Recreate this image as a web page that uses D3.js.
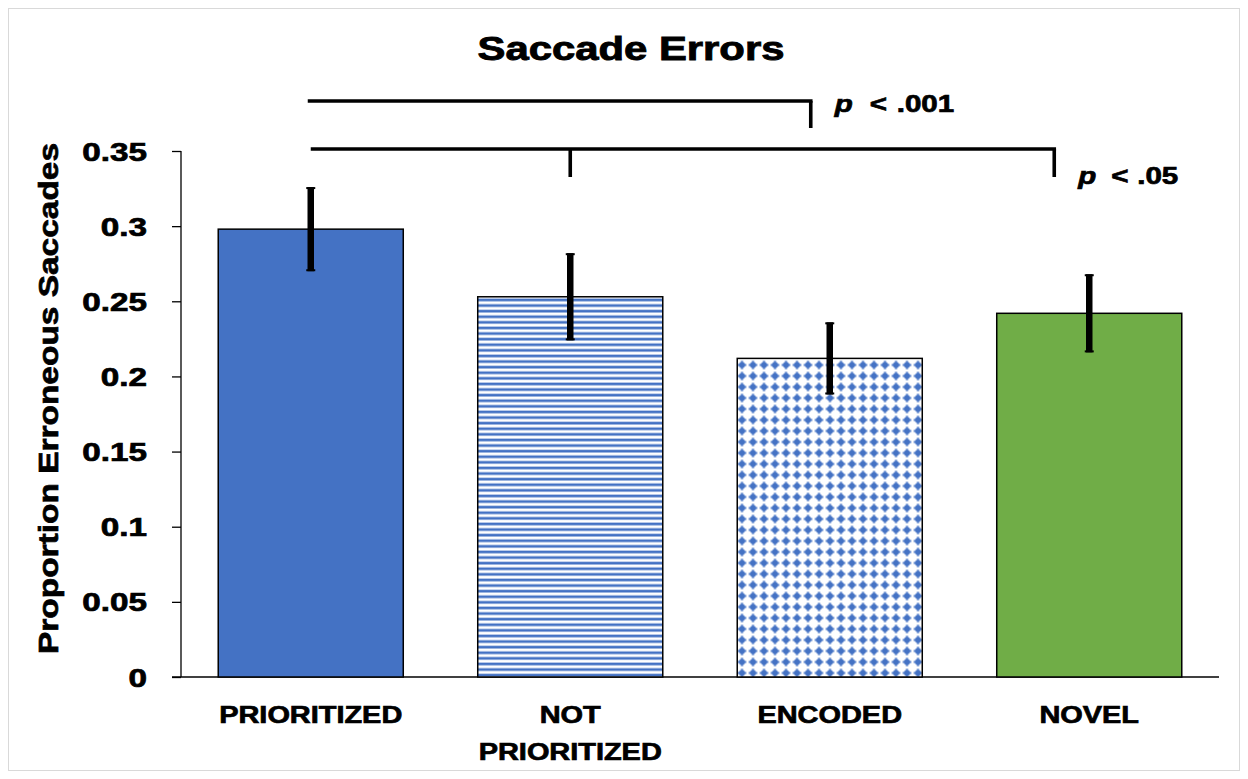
<!DOCTYPE html>
<html>
<head>
<meta charset="utf-8">
<script src="https://cdn.jsdelivr.net/npm/d3@7"></script>
<style>
  body { margin: 0; background: #fff; }
  text { font-family: "Liberation Sans", Arial, sans-serif; font-weight: bold; fill: #000; stroke: #000; stroke-width: 0.7px; }
</style>
</head>
<body>
<div id="chart"></div>
<script>
const categories = ["PRIORITIZED", "NOT PRIORITIZED", "ENCODED", "NOVEL"];
const labelLines = [["PRIORITIZED"], ["NOT", "PRIORITIZED"], ["ENCODED"], ["NOVEL"]];
const means = [0.298, 0.253, 0.212, 0.242];
const errors = [0.028, 0.029, 0.024, 0.026];
const yTicks = [0, 0.05, 0.1, 0.15, 0.2, 0.25, 0.3, 0.35];
const yTickLabels = ["0", "0.05", "0.1", "0.15", "0.2", "0.25", "0.3", "0.35"];
// significance brackets: level of the bar, which categories get a drop
const sigFrom = ["PRIORITIZED", "PRIORITIZED"];
const sigLevel = [0.3833, 0.3513];
const sigDrops = [["ENCODED"], ["NOT PRIORITIZED", "NOVEL"]];
const sigDropEnd = [0.3653, 0.3327];
const sigLabels = [".001", ".05"];

const W = 1248, H = 779;
const margin = { top: 151, right: 29, bottom: 102, left: 181 };
const stretchX = 1.23;

const svg = d3.select("#chart").append("svg")
    .attr("width", W)
    .attr("height", H);

// light frame around the chart area
svg.append("rect")
    .attr("x", 8.5).attr("y", 8.5)
    .attr("width", 1231).attr("height", 762)
    .attr("fill", "#fff")
    .attr("stroke", "#d9d9d9")
    .attr("stroke-width", 1);

const defs = svg.append("defs");

// narrow horizontal stripes
const stripes = defs.append("pattern")
    .attr("id", "stripes")
    .attr("patternUnits", "userSpaceOnUse")
    .attr("width", 10).attr("height", 5.6)
    .attr("y", 298);
stripes.append("rect").attr("width", 10).attr("height", 5.6).attr("fill", "#fff");
stripes.append("rect").attr("y", 0.6).attr("width", 10).attr("height", 2.7).attr("fill", "#4472C4");

// dotted grid
const dots = defs.append("pattern")
    .attr("id", "dots")
    .attr("patternUnits", "userSpaceOnUse")
    .attr("width", 11).attr("height", 11)
    .attr("x", 736.5).attr("y", 359.5);
dots.append("rect").attr("width", 11).attr("height", 11).attr("fill", "#fff");
dots.append("circle").attr("cx", 5.5).attr("cy", 5.5).attr("r", 3).attr("fill", "#4472C4");
dots.append("rect").attr("x", 4.5).attr("y", 1.3).attr("width", 2).attr("height", 8.4).attr("fill", "#4472C4");
dots.append("rect").attr("x", 1.3).attr("y", 4.5).attr("width", 8.4).attr("height", 2).attr("fill", "#4472C4");

const fills = ["#4472C4", "url(#stripes)", "url(#dots)", "#70AD47"];

function stretch(sel, f) {
    sel.each(function() {
        const len = this.getComputedTextLength();
        d3.select(this).attr("textLength", len * f).attr("lengthAdjust", "spacingAndGlyphs");
    });
}

const x = d3.scaleBand()
    .domain(categories)
    .range([margin.left, W - margin.right])
    .paddingInner(0.287)
    .paddingOuter(0.1435);

const y = d3.scaleLinear()
    .domain([0, 0.35])
    .range([H - margin.bottom, margin.top]);

const cx = c => x(c) + x.bandwidth() / 2;

// title
svg.append("text")
    .attr("x", 631)
    .attr("y", 60)
    .attr("text-anchor", "middle")
    .attr("font-size", "34px")
    .style("stroke-width", "0.9px")
    .text("Saccade Errors")
    .call(stretch, stretchX);

// y axis
const yAxis = svg.append("g")
    .attr("transform", `translate(${margin.left},0)`)
    .call(d3.axisLeft(y).tickValues(yTicks).tickSize(9).tickFormat((d, i) => yTickLabels[i]));
yAxis.selectAll("path, line").attr("stroke", "#000").attr("stroke-width", 1.3);
yAxis.select(".domain").attr("d", `M0,${y(0)}V${y(0.35)}`);
yAxis.selectAll("text")
    .attr("x", -34)
    .attr("dy", "0.36em")
    .attr("font-size", "25px")
    .attr("font-family", "'Liberation Sans', Arial, sans-serif")
    .attr("font-weight", "bold")
    .call(stretch, 1.33);

// x axis line
svg.append("line")
    .attr("x1", margin.left - 9).attr("x2", W - margin.right)
    .attr("y1", y(0)).attr("y2", y(0))
    .attr("stroke", "#000").attr("stroke-width", 1.3);

// y label
svg.append("text")
    .attr("transform", `translate(58,398.5) rotate(-90)`)
    .attr("text-anchor", "middle")
    .attr("font-size", "28px")
    .attr("textLength", 511)
    .attr("lengthAdjust", "spacingAndGlyphs")
    .text("Proportion Erroneous Saccades");

// bars
svg.selectAll(".bar")
    .data(categories)
    .enter().append("rect")
    .attr("class", "bar")
    .attr("x", d => x(d))
    .attr("y", (d, i) => y(means[i]))
    .attr("width", x.bandwidth())
    .attr("height", (d, i) => y(0) - y(means[i]))
    .attr("fill", (d, i) => fills[i])
    .attr("stroke", "#000")
    .attr("stroke-width", 1.5);

// error bars
svg.selectAll(".err")
    .data(categories)
    .enter().append("line")
    .attr("class", "err")
    .attr("x1", d => cx(d)).attr("x2", d => cx(d))
    .attr("y1", (d, i) => y(means[i] + errors[i]))
    .attr("y2", (d, i) => y(means[i] - errors[i]))
    .attr("stroke", "#000")
    .attr("stroke-width", 6.5);

["top", "bottom"].forEach(side => {
    const s = side === "top" ? 1 : -1;
    svg.selectAll(".cap-" + side)
        .data(categories)
        .enter().append("line")
        .attr("x1", d => cx(d) - 4.5).attr("x2", d => cx(d) + 4.5)
        .attr("y1", (d, i) => y(means[i] + s * errors[i]) + s)
        .attr("y2", (d, i) => y(means[i] + s * errors[i]) + s)
        .attr("stroke", "#000")
        .attr("stroke-width", 2);
});

// category labels
labelLines.forEach((lines, i) => {
    lines.forEach((ln, j) => {
        svg.append("text")
            .attr("x", cx(categories[i]))
            .attr("y", 723 + j * 37)
            .attr("text-anchor", "middle")
            .attr("font-size", "23.5px")
            .text(ln)
            .call(stretch, stretchX);
    });
});

// significance brackets
const dropShift = { "ENCODED": -19, "NOVEL": -35, "NOT PRIORITIZED": 0 };
sigFrom.forEach((from, i) => {
    const x0 = cx(from) - (i === 0 ? 3 : 0);
    const dropXs = sigDrops[i].map(c => cx(c) + dropShift[c]);
    const x1 = Math.max(...dropXs);
    const yl = y(sigLevel[i]);
    svg.append("line")
        .attr("x1", x0).attr("x2", x1 + 1.8)
        .attr("y1", yl).attr("y2", yl)
        .attr("stroke", "#000").attr("stroke-width", 3.6);
    dropXs.forEach(dx => {
        svg.append("line")
            .attr("x1", dx).attr("x2", dx)
            .attr("y1", yl).attr("y2", y(sigDropEnd[i]))
            .attr("stroke", "#000").attr("stroke-width", 3.6);
    });
    const lx = x1 + 24;
    const ly = yl + (i === 0 ? 11 : 35);
    const parts = [
        { t: "p", dx: 0, italic: true },
        { t: "<", dx: i === 0 ? 35 : 33, italic: false },
        { t: sigLabels[i], dx: i === 0 ? 62 : 59, italic: false }
    ];
    parts.forEach(p => {
        svg.append("text")
            .attr("x", lx + p.dx)
            .attr("y", ly)
            .attr("font-size", "24px")
            .attr("font-style", p.italic ? "italic" : "normal")
            .text(p.t)
            .call(stretch, stretchX);
    });
});
</script>
</body>
</html>
